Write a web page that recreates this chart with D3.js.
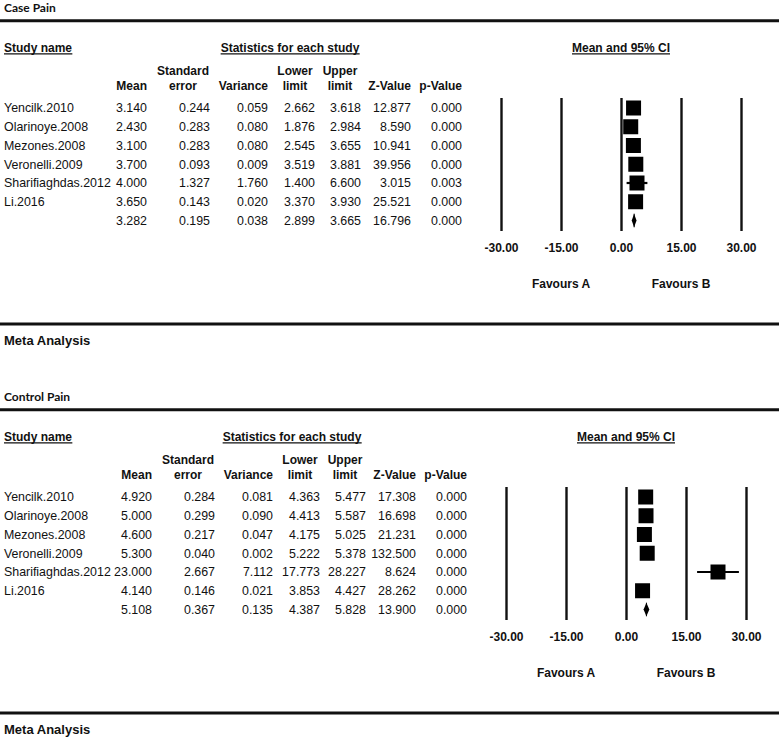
<!DOCTYPE html>
<html>
<head>
<meta charset="utf-8">
<script src="https://cdn.jsdelivr.net/npm/d3@7/dist/d3.min.js"></script>
<style>
  html, body { margin: 0; padding: 0; background: #fff; }
  svg { display: block; }
</style>
</head>
<body>
<svg id="chart" width="779" height="738"></svg>
<script>
// ---------------- DATA ----------------
const studies = ["Yencilk.2010", "Olarinoye.2008", "Mezones.2008", "Veronelli.2009", "Sharifiaghdas.2012", "Li.2016", ""];

const caseTitle = "Case Pain";
const caseMean  = [3.140, 2.430, 3.100, 3.700, 4.000, 3.650, 3.282];
const caseSE    = [0.244, 0.283, 0.283, 0.093, 1.327, 0.143, 0.195];
const caseVar   = [0.059, 0.080, 0.080, 0.009, 1.760, 0.020, 0.038];
const caseLower = [2.662, 1.876, 2.545, 3.519, 1.400, 3.370, 2.899];
const caseUpper = [3.618, 2.984, 3.655, 3.881, 6.600, 3.930, 3.665];
const caseZ     = [12.877, 8.590, 10.941, 39.956, 3.015, 25.521, 16.796];
const caseP     = [0.000, 0.000, 0.000, 0.000, 0.003, 0.000, 0.000];

const controlTitle = "Control Pain";
const controlMean  = [4.920, 5.000, 4.600, 5.300, 23.000, 4.140, 5.108];
const controlSE    = [0.284, 0.299, 0.217, 0.040, 2.667, 0.146, 0.367];
const controlVar   = [0.081, 0.090, 0.047, 0.002, 7.112, 0.021, 0.135];
const controlLower = [4.363, 4.413, 4.175, 5.222, 17.773, 3.853, 4.387];
const controlUpper = [5.477, 5.587, 5.025, 5.378, 28.227, 4.427, 5.828];
const controlZ     = [17.308, 16.698, 21.231, 132.500, 8.624, 28.262, 13.900];
const controlP     = [0.000, 0.000, 0.000, 0.000, 0.000, 0.000, 0.000];

const axisTicks = [-30, -15, 0, 15, 30];
const axisDomain = [-30, 30];
const favoursLabels = [{label: "Favours A", at: -15}, {label: "Favours B", at: 15}];
const columnHeaders = [
  ["", "Mean"], ["Standard", "error"], ["", "Variance"], ["Lower", "limit"],
  ["Upper", "limit"], ["", "Z-Value"], ["", "p-Value"]
];
const footerText = "Meta Analysis";

// ---------------- LAYOUT ----------------
const svg = d3.select("#chart");
const loc = d3.formatLocale({decimal: ".", thousands: ",", grouping: [3], currency: ["", ""], minus: "-"});
const fmt3 = loc.format(".3f");
const fmt2 = loc.format(".2f");
const SANS = "'Liberation Sans', Arial, sans-serif";
const TITLE_FONT = "Lato, 'Open Sans', sans-serif";

// column geometry (panel-1 coordinates)
const colRight  = [147, 210, 268, 315, 361, 411, 462];
const hdrAnchor = ["end", "middle", "end", "middle", "middle", "end", "end"];
const hdrX      = [147, 183, 268, 295, 340, 411, 462];

function underline(g, textSel) {
  const node = textSel.node();
  const bb = node.getBBox();
  g.append("line")
    .attr("x1", bb.x).attr("x2", bb.x + bb.width)
    .attr("y1", +textSel.attr("y") + 2.2).attr("y2", +textSel.attr("y") + 2.2)
    .attr("stroke", "#111").attr("stroke-width", 1.1);
}

function drawPanel(offsetY, colShift, statShift, title, cols) {
  const g = svg.append("g").attr("transform", `translate(0,${offsetY})`);
  const n = studies.length;
  const rowY = d3.scaleLinear().domain([0, 1]).range([108, 108 + 18.75]);

  // title
  g.append("text").attr("x", 4).attr("y", 11.5)
    .attr("font-family", TITLE_FONT).attr("font-weight", 700).attr("font-size", 12)
    .attr("fill", "#111").text(title);
  g.append("line").attr("x1", 0).attr("x2", 779).attr("y1", 20.7).attr("y2", 20.7)
    .attr("stroke", "#111").attr("stroke-width", 3);

  // section headers
  const sh = g.append("g").attr("font-family", SANS).attr("font-weight", 700)
    .attr("font-size", 12).attr("fill", "#111");
  const t1 = sh.append("text").attr("x", 4).attr("y", 51.7).text("Study name");
  underline(sh, t1);
  const t2 = sh.append("text").attr("x", 290 + statShift).attr("y", 51.7)
    .attr("text-anchor", "middle").text("Statistics for each study");
  underline(sh, t2);

  // forest x scale
  const x = d3.scaleLinear().domain(axisDomain).range([501 + colShift, 741 + colShift]);

  const t3 = sh.append("text").attr("x", x(0)).attr("y", 51.7)
    .attr("text-anchor", "middle").text("Mean and 95% CI");
  underline(sh, t3);

  // column headers
  columnHeaders.forEach((h, i) => {
    [h[0], h[1]].forEach((s, k) => {
      if (!s) return;
      sh.append("text")
        .attr("x", hdrX[i] + colShift).attr("y", k === 0 ? 75 : 89.5)
        .attr("text-anchor", hdrAnchor[i]).text(s);
    });
  });

  // table body
  const body = g.append("g").attr("font-family", SANS).attr("font-size", 12.4).attr("fill", "#111");
  body.selectAll("text.name").data(studies).join("text")
    .attr("class", "name").attr("x", 4).attr("y", (d, i) => rowY(i) + 4.4).text(d => d);
  cols.forEach((arr, c) => {
    body.selectAll(`text.c${c}`).data(arr).join("text")
      .attr("class", `c${c}`)
      .attr("x", colRight[c] + colShift)
      .attr("y", (d, i) => rowY(i) + 4.4)
      .attr("text-anchor", "end")
      .text(d => fmt3(d));
  });

  // forest plot axis (vertical reference lines + labels)
  const lineTop = 98, lineBottom = 231;
  const axisG = g.append("g").attr("transform", `translate(0,${lineBottom})`)
    .call(d3.axisBottom(x).tickValues(axisTicks).tickFormat(fmt2)
      .tickSize(-(lineBottom - lineTop)).tickPadding(12.5));
  axisG.select(".domain").remove();
  axisG.selectAll(".tick line").attr("stroke", "#111").attr("stroke-width", 2.4);
  axisG.selectAll(".tick text").attr("font-family", SANS).attr("font-weight", 700)
    .attr("font-size", 12).attr("fill", "#111");

  const mean = cols[0], lower = cols[3], upper = cols[4];
  const idx = d3.range(n - 1);
  // CI lines
  g.selectAll("line.ci").data(idx).join("line").attr("class", "ci")
    .attr("x1", i => x(lower[i])).attr("x2", i => x(upper[i]))
    .attr("y1", i => rowY(i)).attr("y2", i => rowY(i))
    .attr("stroke", "#000").attr("stroke-width", 2.2);
  // squares
  const box = 15;
  g.selectAll("rect.box").data(idx).join("rect").attr("class", "box")
    .attr("x", i => x(mean[i]) - box / 2).attr("y", i => rowY(i) - box / 2)
    .attr("width", box).attr("height", box).attr("fill", "#000");
  // summary diamond
  const s = n - 1, yS = rowY(s), h = 6.8;
  const halfW = Math.max((x(upper[s]) - x(lower[s])) / 2, 2.4);
  const cx = x(mean[s]);
  g.append("path")
    .attr("d", `M${cx - halfW},${yS} L${cx},${yS - h} L${cx + halfW},${yS} L${cx},${yS + h} Z`)
    .attr("fill", "#000");
  g.append("line").attr("x1", cx).attr("x2", cx).attr("y1", yS - h).attr("y2", yS + h)
    .attr("stroke", "#000").attr("stroke-width", 1);

  // favours labels
  g.selectAll("text.fav").data(favoursLabels).join("text").attr("class", "fav")
    .attr("x", d => x(d.at)).attr("y", 287.6).attr("text-anchor", "middle")
    .attr("font-family", SANS).attr("font-weight", 700).attr("font-size", 12)
    .attr("fill", "#111").text(d => d.label);

  // footer
  g.append("line").attr("x1", 0).attr("x2", 779).attr("y1", 324).attr("y2", 324)
    .attr("stroke", "#111").attr("stroke-width", 3);
  g.append("text").attr("x", 4).attr("y", 344.8)
    .attr("font-family", SANS).attr("font-weight", 700).attr("font-size", 13)
    .attr("fill", "#111").text(footerText);
}

drawPanel(0, 0, 0, caseTitle, [caseMean, caseSE, caseVar, caseLower, caseUpper, caseZ, caseP]);
drawPanel(389, 5, 2, controlTitle, [controlMean, controlSE, controlVar, controlLower, controlUpper, controlZ, controlP]);
</script>
</body>
</html>
